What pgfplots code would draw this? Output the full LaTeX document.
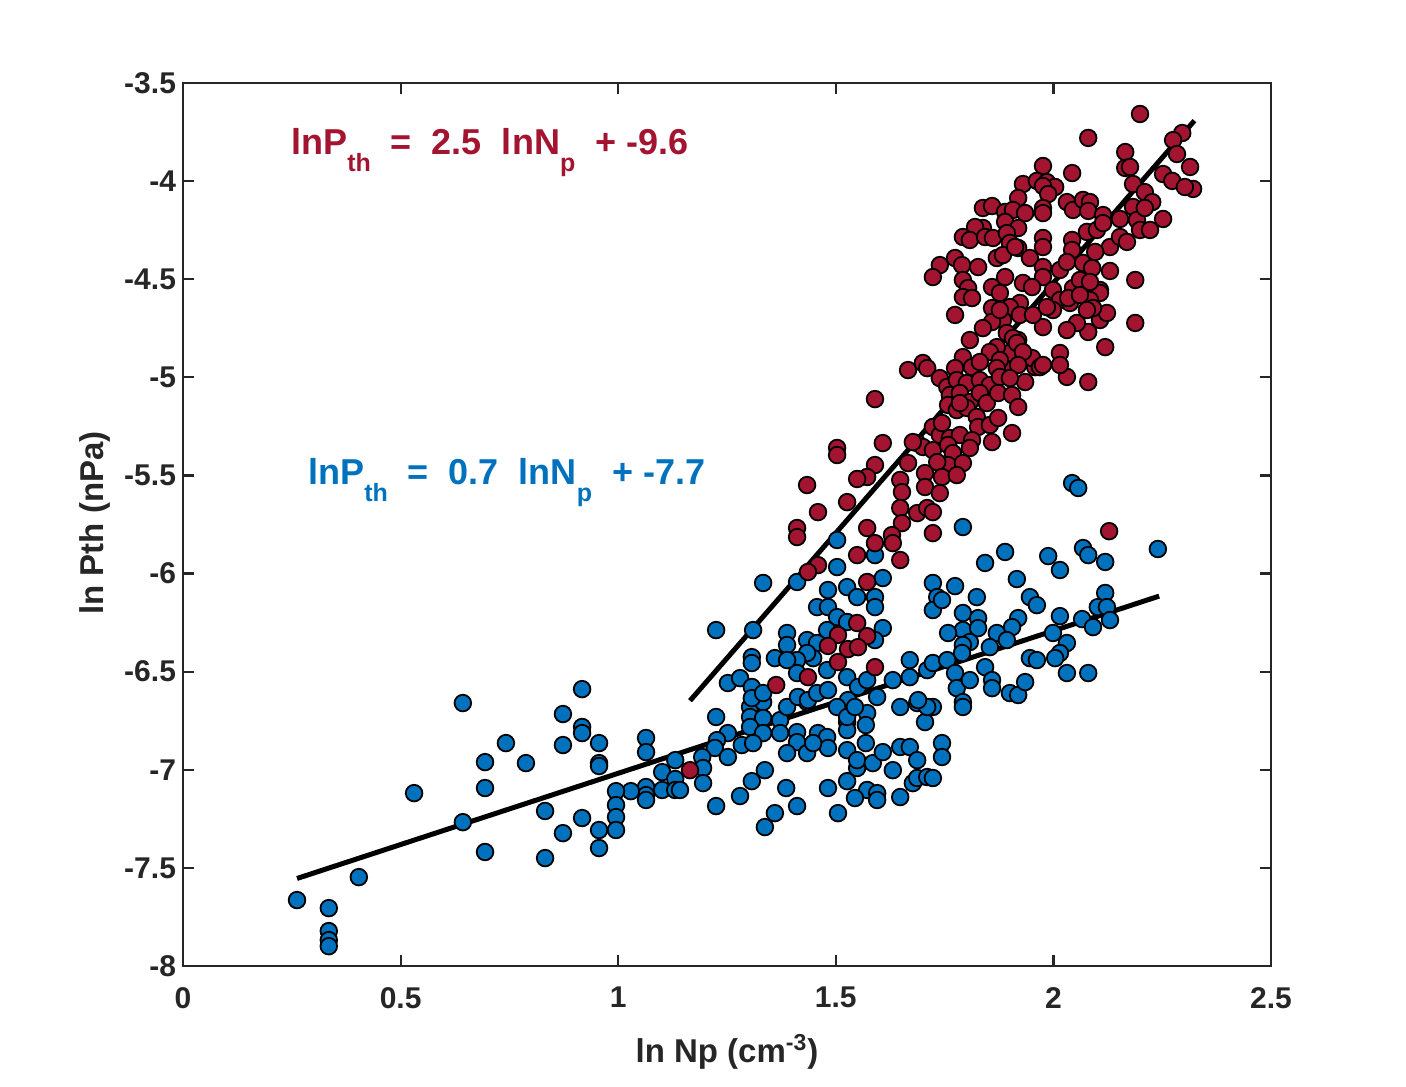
\documentclass[border=0pt]{standalone}
\usepackage{pgfplots}
\pgfplotsset{compat=1.18}
\usepackage{fontspec}
\setmainfont{Liberation Sans}
\definecolor{mred}{RGB}{162,20,47}
\definecolor{mblue}{RGB}{0,114,189}
\definecolor{axgray}{RGB}{38,38,38}
\newcommand{\sub}[1]{\raisebox{-8.5pt}{\fontsize{12.5}{12.5}\selectfont #1}}
\begin{document}
\begin{tikzpicture}
\path[use as bounding box] (0,0) rectangle (703pt,543pt);
\begin{axis}[
  at={(91.5pt,60pt)}, anchor=south west,
  scale only axis, width=544pt, height=441.5pt,
  xmin=0, xmax=2.5, ymin=-8, ymax=-3.5,
  xtick={0,0.5,1,1.5,2,2.5},
  xticklabels={0,0.5,1,1.5,2,2.5},
  ytick={-8,-7.5,-7,-6.5,-6,-5.5,-5,-4.5,-4,-3.5},
  yticklabels={-8,-7.5,-7,-6.5,-6,-5.5,-5,-4.5,-4,-3.5},
  tick align=inside,
  major tick length=5.5pt,
  axis line style={draw=axgray, line width=1.1pt},
  every tick/.style={draw=axgray, line width=1.1pt},
  ticklabel style={font=\fontsize{15}{15}\selectfont\bfseries, text=axgray},
  xticklabel style={yshift=-7pt},
  clip=false,
]
\addplot[only marks, mark=*, mark size=4.15pt, mark options={draw=black, fill=mblue, line width=0.9pt}] table {
0.643 -6.660
0.917 -6.589
0.873 -6.716
0.917 -6.782
0.917 -6.813
0.873 -6.874
0.956 -6.864
0.742 -6.864
0.694 -6.961
0.694 -7.093
0.788 -6.966
0.956 -6.966
0.956 -6.981
0.531 -7.119
1.064 -6.838
1.064 -6.910
1.131 -6.951
1.101 -7.012
1.131 -7.047
1.101 -7.103
1.131 -7.103
1.064 -7.088
1.064 -7.129
1.064 -7.154
1.029 -7.109
0.995 -7.109
0.995 -7.180
0.995 -7.241
0.995 -7.307
0.956 -7.307
0.956 -7.399
0.917 -7.246
0.873 -7.323
0.832 -7.210
0.832 -7.450
0.643 -7.267
0.694 -7.419
0.404 -7.547
0.262 -7.664
0.335 -7.705
0.335 -7.822
0.335 -7.868
0.335 -7.899
1.225 -6.731
1.303 -6.680
1.333 -6.655
1.303 -6.731
1.333 -6.736
1.303 -6.782
1.333 -6.813
1.372 -6.747
1.372 -6.813
1.388 -6.680
1.434 -6.655
1.411 -6.808
1.411 -6.859
1.388 -6.915
1.434 -6.915
1.459 -6.813
1.480 -6.833
1.482 -6.889
1.448 -6.864
1.252 -6.813
1.227 -6.849
1.222 -6.889
1.252 -6.935
1.284 -6.874
1.310 -6.864
1.193 -6.935
1.195 -6.991
1.195 -7.068
1.142 -7.103
1.337 -7.002
1.307 -7.058
1.280 -7.134
1.225 -7.185
1.386 -7.093
1.360 -7.221
1.337 -7.292
1.411 -7.185
1.482 -7.093
1.505 -7.221
1.526 -6.900
1.526 -7.058
1.549 -6.991
1.549 -6.951
1.569 -6.864
1.572 -7.103
1.544 -7.144
1.595 -7.119
1.595 -7.154
1.585 -6.966
1.608 -6.910
1.631 -7.002
1.648 -6.884
1.670 -6.884
1.648 -7.139
1.677 -7.068
1.687 -7.042
1.710 -7.037
1.723 -7.042
1.687 -6.951
1.744 -6.864
1.744 -6.935
1.723 -6.680
1.687 -6.660
1.648 -6.680
1.705 -6.757
1.572 -6.711
1.526 -6.757
1.526 -6.798
1.333 -6.048
1.411 -6.043
1.503 -5.967
1.482 -6.084
1.526 -6.069
1.549 -6.120
1.590 -6.120
1.590 -6.171
1.608 -6.023
1.457 -6.171
1.482 -6.171
1.503 -6.222
1.526 -6.247
1.608 -6.278
1.590 -6.339
1.723 -6.048
1.733 -6.120
1.723 -6.186
1.225 -6.288
1.310 -6.288
1.388 -6.303
1.388 -6.364
1.434 -6.339
1.457 -6.354
1.480 -6.288
1.448 -6.431
1.480 -6.492
1.434 -6.405
1.411 -6.441
1.411 -6.507
1.307 -6.426
1.307 -6.456
1.360 -6.431
1.388 -6.441
1.252 -6.558
1.280 -6.533
1.307 -6.578
1.307 -6.635
1.333 -6.609
1.413 -6.629
1.436 -6.645
1.457 -6.609
1.482 -6.594
1.526 -6.528
1.551 -6.578
1.528 -6.645
1.572 -6.543
1.595 -6.629
1.503 -6.680
1.526 -6.731
1.544 -6.680
1.569 -6.772
1.631 -6.543
1.670 -6.441
1.670 -6.528
1.710 -6.492
1.723 -6.456
1.710 -6.680
2.043 -5.539
2.057 -5.564
1.792 -5.763
2.240 -5.875
2.068 -5.870
2.080 -5.906
2.119 -5.941
1.889 -5.890
1.843 -5.946
1.988 -5.911
2.015 -5.982
1.774 -6.064
1.744 -6.135
1.824 -6.120
1.916 -6.028
1.946 -6.120
1.962 -6.161
2.119 -6.099
2.102 -6.171
2.123 -6.171
1.792 -6.201
1.827 -6.227
1.792 -6.288
1.827 -6.278
1.758 -6.303
1.808 -6.349
1.792 -6.364
1.790 -6.405
1.919 -6.227
1.905 -6.273
1.870 -6.303
1.893 -6.339
1.854 -6.375
2.015 -6.217
1.999 -6.303
2.031 -6.354
2.015 -6.405
2.004 -6.431
2.066 -6.232
2.091 -6.273
2.130 -6.237
1.946 -6.431
1.962 -6.441
2.031 -6.507
2.080 -6.507
1.756 -6.441
1.774 -6.507
1.778 -6.584
1.808 -6.543
1.843 -6.477
1.859 -6.543
1.859 -6.584
1.900 -6.609
1.919 -6.619
1.935 -6.553
1.689 -6.645
1.792 -6.655
1.792 -6.680
1.503 -5.829
1.590 -5.906
};
\addplot[only marks, mark=*, mark size=4.15pt, mark options={draw=black, fill=mred, line width=0.9pt}] table {
2.199 -3.658
2.080 -3.780
2.296 -3.755
2.275 -3.791
2.165 -3.852
2.284 -3.862
2.165 -3.933
2.176 -3.928
2.314 -3.928
2.043 -3.959
1.976 -3.923
2.252 -3.964
2.273 -3.999
2.321 -4.040
2.302 -4.030
2.183 -4.015
2.210 -4.056
2.227 -4.107
1.930 -4.015
1.962 -3.999
1.985 -4.005
2.004 -4.030
1.976 -4.025
1.988 -4.066
1.919 -4.086
1.838 -4.137
1.859 -4.127
1.889 -4.157
1.907 -4.147
1.935 -4.163
1.976 -4.137
1.976 -4.163
2.031 -4.107
2.045 -4.147
2.068 -4.096
2.084 -4.107
2.080 -4.152
2.114 -4.173
2.153 -4.193
2.183 -4.132
2.192 -4.198
2.210 -4.137
2.252 -4.193
1.889 -4.208
1.919 -4.239
1.838 -4.239
1.820 -4.234
1.792 -4.285
1.808 -4.300
1.843 -4.285
1.861 -4.290
1.893 -4.265
1.900 -4.315
1.919 -4.341
1.976 -4.290
1.976 -4.336
2.043 -4.300
2.043 -4.351
2.077 -4.259
2.100 -4.249
2.114 -4.214
2.130 -4.336
2.153 -4.285
2.169 -4.310
2.199 -4.249
2.222 -4.249
1.739 -4.428
1.723 -4.489
1.774 -4.392
1.790 -4.428
1.827 -4.438
1.870 -4.392
1.884 -4.377
1.912 -4.336
1.946 -4.392
1.976 -4.438
1.976 -4.489
2.015 -4.453
2.031 -4.412
2.068 -4.417
2.089 -4.443
2.096 -4.361
2.130 -4.458
2.188 -4.504
1.792 -4.504
1.804 -4.545
1.859 -4.540
1.889 -4.489
1.930 -4.519
1.951 -4.540
1.999 -4.555
2.045 -4.545
2.107 -4.555
2.188 -4.723
2.119 -4.846
2.107 -4.570
2.107 -4.708
2.123 -4.672
2.080 -4.769
2.054 -4.723
2.031 -4.759
2.015 -4.876
2.031 -4.998
2.080 -5.024
1.976 -4.744
1.958 -4.948
1.935 -5.024
2.084 -4.606
2.091 -4.647
2.015 -4.606
2.038 -4.621
1.999 -4.657
1.923 -4.621
1.900 -4.642
1.877 -4.570
1.884 -4.708
1.893 -4.774
1.919 -4.810
1.900 -4.876
1.884 -4.948
1.951 -4.902
1.969 -4.948
2.061 -4.504
2.084 -4.514
1.792 -4.591
1.813 -4.596
1.774 -4.682
1.859 -4.647
1.859 -4.718
1.838 -4.749
1.877 -4.657
1.923 -4.682
1.953 -4.682
1.985 -4.642
2.034 -4.596
2.061 -4.581
2.077 -4.657
1.907 -4.800
1.870 -4.846
1.916 -4.825
1.930 -4.871
1.808 -4.810
1.854 -4.871
1.877 -4.912
2.015 -4.937
1.666 -4.963
1.700 -4.927
1.710 -4.953
1.792 -4.897
1.774 -4.953
1.813 -4.948
1.831 -4.922
1.870 -4.953
1.919 -4.937
1.976 -4.937
1.739 -5.004
1.756 -5.049
1.778 -5.014
1.801 -5.029
1.831 -5.014
1.854 -5.039
1.877 -4.998
1.900 -5.004
1.762 -5.090
1.785 -5.080
1.808 -5.126
1.831 -5.080
1.847 -5.131
1.873 -5.080
1.905 -5.090
1.919 -5.151
1.758 -5.141
1.778 -5.167
1.801 -5.156
1.824 -5.202
1.827 -5.253
1.854 -5.243
1.873 -5.207
1.905 -5.284
1.723 -5.253
1.739 -5.294
1.762 -5.309
1.785 -5.294
1.813 -5.320
1.859 -5.330
1.687 -5.335
1.700 -5.355
1.723 -5.371
1.758 -5.345
1.769 -5.386
1.808 -5.360
1.666 -5.437
1.705 -5.488
1.758 -5.447
1.792 -5.437
1.733 -5.432
1.590 -5.111
1.503 -5.360
1.503 -5.396
1.608 -5.335
1.677 -5.330
1.744 -5.233
1.785 -5.131
1.744 -5.508
1.778 -5.498
1.590 -5.447
1.572 -5.508
1.549 -5.518
1.648 -5.523
1.652 -5.585
1.705 -5.559
1.739 -5.590
1.434 -5.549
1.526 -5.636
1.459 -5.687
1.648 -5.666
1.687 -5.692
1.710 -5.666
1.723 -5.687
1.652 -5.743
1.411 -5.768
1.411 -5.814
1.572 -5.768
1.629 -5.804
1.631 -5.845
1.590 -5.845
1.723 -5.794
1.549 -5.906
1.648 -5.931
1.459 -5.957
1.436 -5.992
1.572 -6.043
1.549 -6.252
1.572 -6.319
1.505 -6.313
1.482 -6.369
1.528 -6.385
1.551 -6.375
1.505 -6.451
1.590 -6.477
1.436 -6.528
1.363 -6.568
1.165 -7.002
2.128 -5.784
};
\addplot[black, line width=2.5pt] coordinates {(1.165,-6.648) (2.324,-3.692)};
\addplot[black, line width=2.5pt] coordinates {(0.262,-7.554) (2.243,-6.115)};
\node[anchor=base west, text=mred, font=\fontsize{18}{18}\selectfont\bfseries, inner sep=0pt]
  at (axis cs:0.248,-3.862) {lnP\sub{th}\ \ =\ \ 2.5\ \ lnN\sub{p}\ \ +\ -9.6};
\node[anchor=base west, text=mblue, font=\fontsize{18}{18}\selectfont\bfseries, inner sep=0pt]
  at (axis cs:0.287,-5.545) {lnP\sub{th}\ \ =\ \ 0.7\ \ lnN\sub{p}\ \ +\ -7.7};
\end{axis}
\node[font=\fontsize{16.5}{16.5}\selectfont\bfseries, text=axgray] at (363.5pt,17pt) {ln Np (cm\textsuperscript{-3})};
\node[font=\fontsize{16.5}{16.5}\selectfont\bfseries, text=axgray, rotate=90] at (47.5pt,281.5pt) {ln Pth (nPa)};
\end{tikzpicture}
\end{document}
